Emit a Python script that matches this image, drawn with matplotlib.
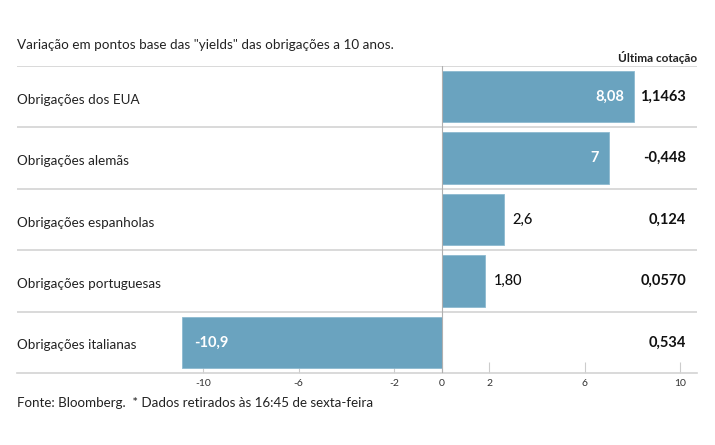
import matplotlib.pyplot as plt
import matplotlib.transforms as mtransforms

plt.rcParams['font.family'] = ['Lato', 'DejaVu Sans']

# data
categorias = ["Obrigações dos EUA", "Obrigações alemãs", "Obrigações espanholas",
              "Obrigações portuguesas", "Obrigações italianas"]
variacao = [8.08, 7.0, 2.6, 1.80, -10.9]
rotulos_barra = ["8,08", "7", "2,6", "1,80", "-10,9"]
ultima_cotacao = ["1,1463", "-0,448", "0,124", "0,0570", "0,534"]
ticks = [-10, -6, -2, 0, 2, 6, 10]

W, H = 715, 445
fig = plt.figure(figsize=(W / 100, H / 100), dpi=100)
# axes placed in pixel coords: x 17..697, y 66..373
ax = fig.add_axes([17 / W, 1 - 373 / H, (697 - 17) / W, (373 - 66) / H])

cor = '#6aa3bf'
ypos = list(range(len(categorias)))
ax.barh(ypos, variacao, height=0.84, color=cor, edgecolor='#8dbad0', linewidth=0.6, zorder=2)

ax.set_xlim(-17.8, 10.7)
ax.set_ylim(len(categorias) - 0.5, -0.5)

# linhas entre as categorias
for y in [i - 0.5 for i in range(len(categorias))]:
    ax.axhline(y, color='#d3d3d3', lw=1.2, zorder=1)
ax.axvline(0, color='#b0b0b0', lw=0.8, zorder=3)

for s in ['top', 'left', 'right']:
    ax.spines[s].set_visible(False)
ax.spines['bottom'].set_color('#d3d3d3')
ax.spines['bottom'].set_linewidth(1.2)

ax.set_yticks([])
ax.set_xticks(ticks)
ax.set_xticklabels([str(t) for t in ticks])
ax.tick_params(axis='x', direction='in', length=8, width=0.8, color='#cccccc',
               labelsize=7.5, labelcolor='#333333', pad=4)

lado = mtransforms.blended_transform_factory(ax.transAxes, ax.transData)
off = mtransforms.offset_copy

for i, (cat, v, lab, cot) in enumerate(zip(categorias, variacao, rotulos_barra, ultima_cotacao)):
    ax.text(0.0, i + 0.05, cat, transform=lado, ha='left', va='center',
            fontsize=9.7, color='#222222')
    if abs(v) > 5:
        if v > 0:
            t = off(ax.transData, fig=fig, x=-10, y=0, units='dots')
            ax.text(v, i, lab, transform=t, ha='right', va='center', fontsize=10.5,
                    color='white', fontweight='bold', zorder=4)
        else:
            t = off(ax.transData, fig=fig, x=12, y=0, units='dots')
            ax.text(v, i, lab, transform=t, ha='left', va='center', fontsize=10.5,
                    color='white', fontweight='bold', zorder=4)
    else:
        t = off(ax.transData, fig=fig, x=9, y=0, units='dots')
        ax.text(v, i, lab, transform=t, ha='left', va='center', fontsize=10.5,
                color='#111111', fontweight='medium', zorder=4)
    ax.text((686 - 17) / (697 - 17), i, cot, transform=lado, ha='right', va='center',
            fontsize=10.5, color='#111111', fontweight='bold')

fig.text(17 / W, 1 - 45 / H, 'Variação em pontos base das "yields" das obrigações a 10 anos.',
         ha='left', va='center', fontsize=9.7, color='#222222')
fig.text(697 / W, 1 - 57 / H, 'Última cotação', ha='right', va='center',
         fontsize=8.5, fontweight='bold', color='#222222')
fig.text(17 / W, 1 - 403 / H, 'Fonte: Bloomberg.  * Dados retirados às 16:45 de sexta-feira',
         ha='left', va='center', fontsize=9.6, color='#222222')

fig.savefig('out.png', dpi=100)
